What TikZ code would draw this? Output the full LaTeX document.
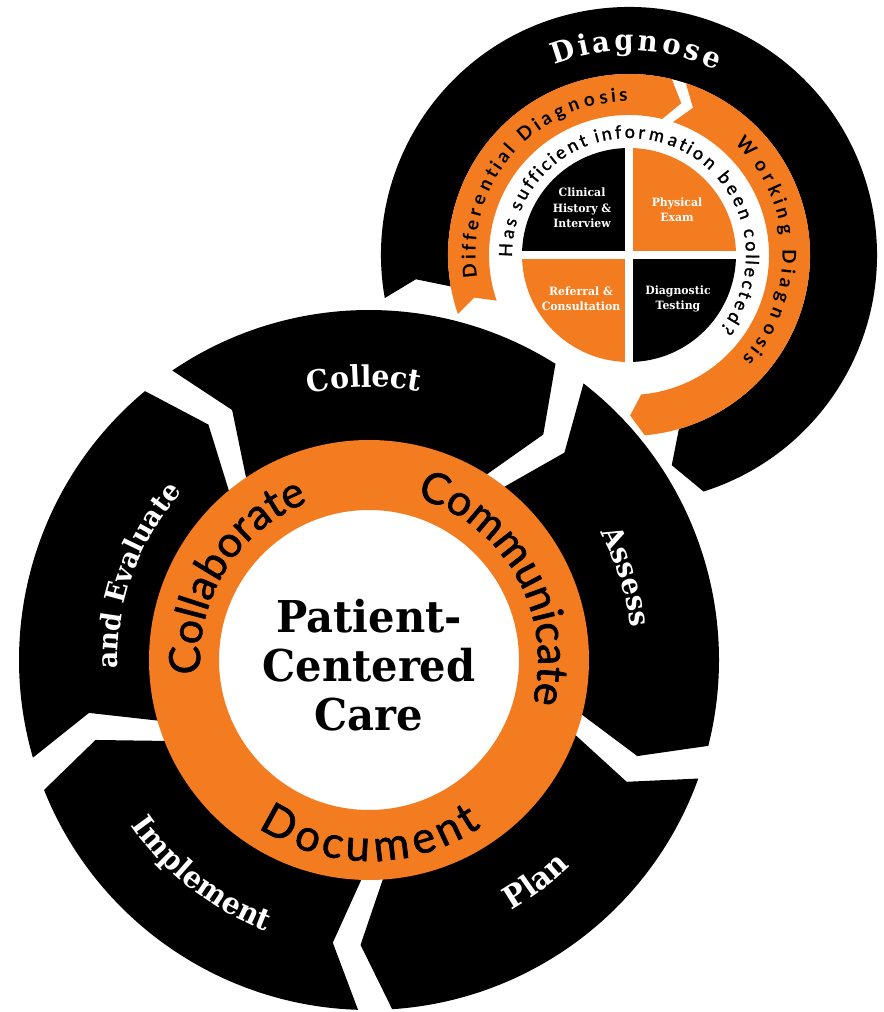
\documentclass[tikz,border=0pt]{standalone}
\usepackage{fontspec}
\usetikzlibrary{decorations.text}
\newfontfamily\slab{DejaVu Serif}[FakeStretch=0.95]
\newfontfamily\gsans{Lato}
\newfontfamily\gsansm{Lato}[FakeBold=1.5]
\definecolor{ccorange}{RGB}{244,124,32}
\tikzset{
  qlab/.style={text=white, font=\slab\bfseries\fontsize{11.5}{15.5}\selectfont, align=center},
}
\begin{document}
\begin{tikzpicture}[x=1bp,y=1bp]
\useasboundingbox (0,0) rectangle (884,1012);
\fill[white] (0,0) rectangle (884,1012);
\coordinate (B) at (369,352);
\coordinate (S) at (629,757);

% ---------- small diagram ----------
\begin{scope}[shift={(629,757)}]
  \fill[black] (190:248) arc[start angle=190, end angle=-72.5, radius=248]
     -- (-78.5:214.5) -- (-74:181) arc[start angle=-74, end angle=190, radius=181]
     -- (186.5:214.5) -- cycle;
  \fill[ccorange] (199:181) arc[start angle=199, end angle=76.3, radius=181]
     -- (71:160.5) -- (76.3:140) arc[start angle=76.3, end angle=199, radius=140]
     -- (195.4:160.5) -- cycle;
  \fill[ccorange] (71.7:181) arc[start angle=71.7, end angle=-85, radius=181]
     -- (-89.6:160.5) -- (-85:140) arc[start angle=-85, end angle=71.7, radius=140]
     -- (66.5:160.5) -- cycle;
  \fill[black] (0,0) -- (90:107) arc[start angle=90, end angle=180, radius=107] -- cycle;
  \fill[ccorange] (0,0) -- (0:107) arc[start angle=0, end angle=90, radius=107] -- cycle;
  \fill[ccorange] (0,0) -- (180:107) arc[start angle=180, end angle=270, radius=107] -- cycle;
  \fill[black] (0,0) -- (270:107) arc[start angle=270, end angle=360, radius=107] -- cycle;
  \draw[white, line width=8bp] (-110,0) -- (110,0) (0,-110) -- (0,110);
\end{scope}

\node[qlab] (q1) at (582,804) {Clinical\\History \&\\Interview};
\node[qlab] (q2) at (677,802) {Physical\\Exam};
\node[qlab] (q3) at (581,713) {Referral \&\\Consultation};
\node[qlab] (q4) at (678,713) {Diagnostic\\Testing};

\path[decorate, decoration={text effects along path, text={Diagnose},
   text effects/.cd, fit text to path/.try,
   characters={text=white, font=\slab\bfseries\fontsize{29}{29}\selectfont},
   text along path}]
   (S) ++(111.3:204.5) arc[start angle=111.3, end angle=64.8, radius=204.5];
\path[decorate, decoration={text effects along path, text={Differential Diagnosis},
   text effects/.cd, fit text to path/.try,
   characters={text=black, font=\gsans\bfseries\fontsize{19}{19}\selectfont},
   text along path}]
   (S) ++(188.6:153.5) arc[start angle=188.6, end angle=90.5, radius=153.5];
\path[decorate, decoration={text effects along path, text={Working Diagnosis},
   text effects/.cd, fit text to path/.try,
   characters={text=black, font=\gsans\bfseries\fontsize{19}{19}\selectfont},
   text along path}]
   (S) ++(46.5:153.5) arc[start angle=46.5, end angle=-42.5, radius=153.5];
\path[decorate, decoration={text effects along path, text={Has sufficient information been collected?},
   text effects/.cd, fit text to path/.try,
   characters={text=black, font=\gsansm\fontsize{18}{18}\selectfont},
   text along path}]
   (S) ++(181:117) arc[start angle=181, end angle=-39, radius=117];

% ---------- big diagram ----------
\begin{scope}[shift={(369,352)}]
  \foreach \a in {127,55,-17,-89,-161}{
    \pgfmathsetmacro\ao{\a-2.8}
    \pgfmathsetmacro\an{\a-8.3}
    \pgfmathsetmacro\bo{\a-72+2.8}
    \pgfmathsetmacro\bt{\a-72+2.8-5.5}
    \fill[black] (\ao:350) arc[start angle=\ao, end angle=\bo, radius=350]
      -- (\bt:285) -- (\bo:218) arc[start angle=\bo, end angle=\ao, radius=218]
      -- (\an:285) -- cycle;
  }
  \fill[ccorange, even odd rule] (0,0) circle[radius=220] (0,0) circle[radius=150];
\end{scope}

% segment labels
\path[decorate, decoration={text along path, text color=white, text align=center,
   text={|\slab\bfseries\fontsize{30}{30}\selectfont|Collect}}]
   (B) ++(131:273) arc[start angle=131, end angle=51, radius=273];
\path[decorate, decoration={text along path, text color=white, text align=center,
   text={|\slab\bfseries\fontsize{29}{29}\selectfont|Assess}}]
   (B) ++(58:264) arc[start angle=58, end angle=-22, radius=264];
\path[decorate, decoration={text along path, text color=white, text align=center,
   text={|\slab\bfseries\fontsize{31}{31}\selectfont|Plan}}]
   (B) ++(-93:288) arc[start angle=-93, end angle=-13, radius=288];
\path[decorate, decoration={text along path, text color=white, text align=center,
   text={|\slab\bfseries\fontsize{30}{30}\selectfont|Implement}}]
   (B) ++(192:290) arc[start angle=192, end angle=272, radius=290];
\path[decorate, decoration={text along path, text color=white, text align=center,
   text={|\slab\bfseries\fontsize{28}{28}\selectfont|and Evaluate}}]
   (B) ++(200:251) arc[start angle=200, end angle=120, radius=251];

% ring labels
\path[decorate, decoration={text along path, text color=black, text align=center,
   text={|\gsansm\fontsize{43}{43}\selectfont|Collaborate}}]
   (B) ++(220:169) arc[start angle=220, end angle=76, radius=169];
\path[decorate, decoration={text along path, text color=black, text align=center,
   text={|\gsansm\fontsize{43}{43}\selectfont|Communicate}}]
   (B) ++(100:169) arc[start angle=100, end angle=-41, radius=169];
\path[decorate, decoration={text effects along path, text={Document},
   text effects/.cd, fit text to path/.try,
   characters={text=black, font=\gsansm\fontsize{44}{44}\selectfont},
   text along path}]
   (B) ++(236.5:201) arc[start angle=236.5, end angle=304, radius=201];

\node[font=\slab\bfseries\fontsize{44}{49.5}\selectfont, align=center] (pcc) at (369,347) {Patient-\\Centered\\Care};
\end{tikzpicture}
\end{document}
